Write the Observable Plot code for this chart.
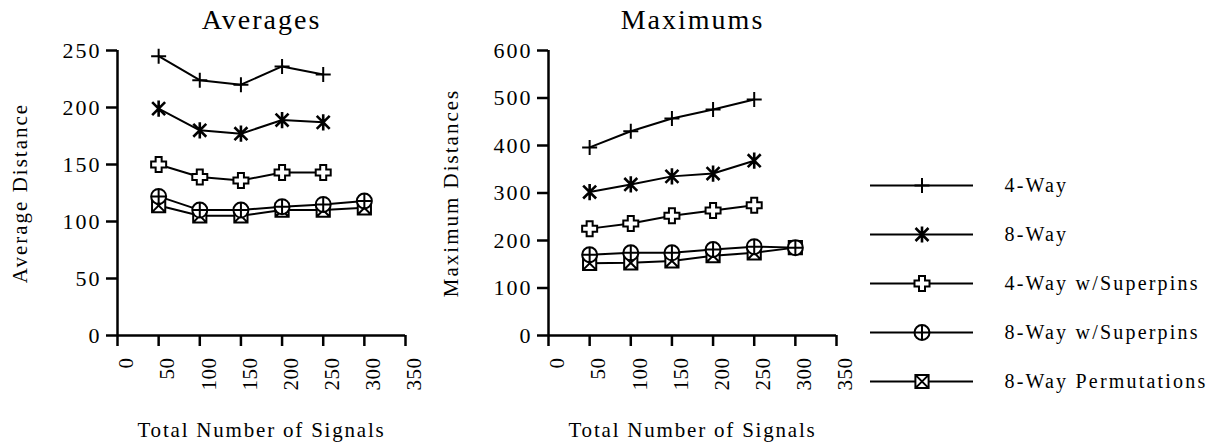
<!DOCTYPE html>
<html><head><meta charset="utf-8">
<script src="https://cdn.jsdelivr.net/npm/d3@7"></script>
<script src="https://cdn.jsdelivr.net/npm/@observablehq/plot@0.6"></script>
<style>
body{margin:0;background:#fff;}
#wrap{position:relative;width:1217px;height:444px;overflow:hidden;background:#fff}
#wrap svg{position:absolute;top:0}
#wrap svg text{font-family:"Liberation Serif","Times New Roman",serif}
</style></head><body>
<div id="wrap"></div>
<script>
// ---- data ----
const signals = [50, 100, 150, 200, 250, 300];
const seriesNames = ["4-Way", "8-Way", "4-Way w/Superpins", "8-Way w/Superpins", "8-Way Permutations"];
const avg4Way     = [245, 224, 220, 236, 229];
const avg8Way     = [199, 180, 177, 189, 187];
const avg4WaySP   = [150, 139, 136, 143, 143];
const avg8WaySP   = [122, 110, 110, 113, 115, 118];
const avg8WayPerm = [114, 105, 105, 110, 110, 112];
const max4Way     = [396, 430, 457, 476, 497];
const max8Way     = [302, 318, 335, 341, 368];
const max4WaySP   = [225, 236, 252, 263, 274];
const max8WaySP   = [170, 174, 174, 181, 187, 185];
const max8WayPerm = [152, 153, 157, 168, 174, 185];
const avgTicks = [0, 50, 100, 150, 200, 250];
const maxTicks = [0, 100, 200, 300, 400, 500, 600];
const xTicks = [0, 50, 100, 150, 200, 250, 300, 350];

// ---- symbols ----
const rad = s => Math.sqrt(s / Math.PI);
const symPlus = {draw(c, s) {const r = rad(s); c.moveTo(-r, 0); c.lineTo(r, 0); c.moveTo(0, -r); c.lineTo(0, r);}};
const symStar = {draw(c, s) {const r = rad(s) * 1.08, a = r * 0.8;
  c.moveTo(0, -r); c.lineTo(0, r); c.moveTo(-a, -a); c.lineTo(a, a); c.moveTo(-a, a); c.lineTo(a, -a);}};
const symCross = {draw(c, s) {const r = rad(s), w = r * 0.4;
  c.moveTo(-w, -r); c.lineTo(w, -r); c.lineTo(w, -w); c.lineTo(r, -w); c.lineTo(r, w); c.lineTo(w, w);
  c.lineTo(w, r); c.lineTo(-w, r); c.lineTo(-w, w); c.lineTo(-r, w); c.lineTo(-r, -w); c.lineTo(-w, -w); c.closePath();}};
const symOPlus = {draw(c, s) {const r = rad(s);
  c.moveTo(r, 0); c.arc(0, 0, r, 0, 2 * Math.PI); c.closePath();
  c.moveTo(-r, 0); c.lineTo(r, 0); c.moveTo(0, -r); c.lineTo(0, r);}};
const symBoxX = {draw(c, s) {const r = rad(s) * 0.88;
  c.moveTo(-r, -r); c.lineTo(r, -r); c.lineTo(r, r); c.lineTo(-r, r); c.closePath();
  c.moveTo(-r, -r); c.lineTo(r, r); c.moveTo(-r, r); c.lineTo(r, -r);}};
const symbols = [symPlus, symStar, symCross, symOPlus, symBoxX];
const fills = ["none", "none", "white", "white", "white"];
const widths = [2, 2.6, 2, 2, 2];

const FONT = "Liberation Serif";
const spacing = {"y-axis tick label": "2px", "xtick": "0.5px", "title": "2px", "ylabel": "2px", "xlabel": "1.8px", "legendtext": "2.2px"};

function applySpacing(svg) {
  for (const [k, v] of Object.entries(spacing)) {
    d3.select(svg).selectAll(`g[aria-label="${k}"] text, text[aria-label="${k}"]`).style("letter-spacing", v);
  }
}

function rows(lists) {
  const out = [];
  lists.forEach((vals, i) => vals.forEach((v, j) => out.push({series: seriesNames[i], si: i, x: signals[j], y: v})));
  return out;
}

function chart({lists, yTicks, yMax, title, ylabel, left}) {
  const data = rows(lists);
  const marks = [];
  marks.push(Plot.ruleX([0], {stroke: "black", strokeWidth: 2.5}));
  marks.push(Plot.ruleY([0], {stroke: "black", strokeWidth: 2.5}));
  marks.push(Plot.axisY({ticks: yTicks, tickSize: 11, tickPadding: 5, fontSize: 22, label: null, strokeWidth: 2.5}));
  marks.push(Plot.axisX({ticks: xTicks, tickSize: 11, tickFormat: () => "", label: null, strokeWidth: 2.5}));
  marks.push(Plot.text(xTicks, {x: d => d, y: 0, text: d => String(d), rotate: -90, textAnchor: "end", lineAnchor: "middle",
    dy: 22, dx: 9, fontSize: 21, fontFamily: FONT, ariaLabel: () => "xtick"}));
  for (let i = 0; i < 5; i++) {
    marks.push(Plot.line(data.filter(d => d.si === i), {x: "x", y: "y", stroke: "black", strokeWidth: 2}));
  }
  for (let i = 4; i >= 0; i--) {
    marks.push(Plot.dot(data.filter(d => d.si === i), {x: "x", y: "y", symbol: () => symbols[i], r: 7.5,
      stroke: "black", strokeWidth: widths[i], fill: fills[i]}));
  }
  marks.push(Plot.text([title], {frameAnchor: "top", dy: -22, lineAnchor: "bottom", textAnchor: "middle", fontSize: 28, fontFamily: FONT, ariaLabel: () => "title"}));
  marks.push(Plot.text([ylabel], {frameAnchor: "left", dx: -91, rotate: -90, lineAnchor: "bottom", textAnchor: "middle", fontSize: 21, fontFamily: FONT, ariaLabel: () => "ylabel"}));
  marks.push(Plot.text(["Total Number of Signals"], {frameAnchor: "bottom", dy: 101, lineAnchor: "bottom", textAnchor: "middle", fontSize: 21, fontFamily: FONT, ariaLabel: () => "xlabel"}));
  const svg = Plot.plot({
    width: 430, height: 444,
    marginLeft: 117, marginRight: 25, marginTop: 50, marginBottom: 109,
    style: {fontFamily: FONT, color: "black", background: "white", overflow: "visible"},
    x: {domain: [0, 350]},
    y: {domain: [0, yMax]},
    symbol: {type: "identity"},
    marks
  });
  applySpacing(svg);
  svg.style.left = left + "px";
  return svg;
}

const wrap = document.getElementById("wrap");
wrap.appendChild(chart({lists: [avg4Way, avg8Way, avg4WaySP, avg8WaySP, avg8WayPerm], yTicks: avgTicks, yMax: 250,
  title: "Averages", ylabel: "Average Distance", left: 0}));
wrap.appendChild(chart({lists: [max4Way, max8Way, max4WaySP, max8WaySP, max8WayPerm], yTicks: maxTicks, yMax: 600,
  title: "Maximums", ylabel: "Maximum Distances", left: 431}));

// legend
const legendRows = seriesNames.map((name, i) => ({name, i}));
const legend = Plot.plot({
  width: 367, height: 444, margin: 0,
  style: {fontFamily: FONT, color: "black", background: "transparent", overflow: "visible"},
  x: {domain: [0, 1], range: [20, 123], axis: null},
  y: {type: "point", domain: seriesNames, range: [160, 405], axis: null},
  symbol: {type: "identity"},
  marks: [
    Plot.ruleY(legendRows, {y: "name", x1: 0, x2: 1, stroke: "black", strokeWidth: 2}),
    Plot.dot(legendRows, {x: 0.5, y: "name", symbol: d => symbols[d.i], r: 7.5, stroke: "black", strokeWidth: d => widths[d.i], fill: d => fills[d.i]}),
    Plot.text(legendRows, {x: 1, y: "name", text: "name", dx: 31, textAnchor: "start", fontSize: 20, fontFamily: FONT, ariaLabel: () => "legendtext"})
  ]
});
applySpacing(legend);
legend.style.left = "850px";
wrap.appendChild(legend);
</script>
</body></html>
